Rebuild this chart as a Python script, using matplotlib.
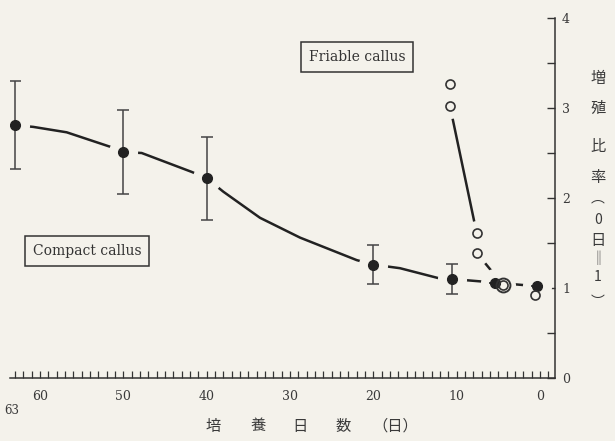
import matplotlib.pyplot as plt
from matplotlib.ticker import MultipleLocator

# compact callus (filled, with error bars)
compact_days = [63, 50, 40, 20, 10.6, 5.4, 0.4]
compact_ratio = [2.81, 2.51, 2.22, 1.26, 1.10, 1.06, 1.02]
compact_err = [0.49, 0.47, 0.46, 0.22, 0.17, 0, 0]

# hand-drawn curve through the compact points
curve_days = [63, 60.8, 56.8, 51.6, 50, 47.8, 41.8, 40, 38.0, 33.6, 28.8, 22.0, 20,
              16.8, 12.2, 10.6, 5.4, 0.4]
curve_ratio = [2.81, 2.79, 2.73, 2.57, 2.51, 2.50, 2.29, 2.22, 2.07, 1.78, 1.56, 1.31, 1.26,
               1.22, 1.11, 1.10, 1.06, 1.02]

# friable callus (open circles)
friable_days = [10.8, 10.8, 7.6, 7.6, 4.4, 0.6]
friable_ratio = [3.27, 3.02, 1.61, 1.39, 1.03, 0.92]

x_ticks = [0, 10, 20, 30, 40, 50, 60]
y_ticks = [0, 1, 2, 3, 4]

bg = '#f4f2eb'
ink = '#222222'
txt = '#3a3a3a'
cjk = ['Noto Sans CJK JP', 'DejaVu Sans']

fig = plt.figure(figsize=(6.15, 4.41), dpi=100, facecolor=bg)
ax = fig.add_axes([10 / 615, 1 - 378 / 441, 545 / 615, 360 / 441])
ax.set_facecolor(bg)
ax.set_xlim(63.6, -1.8)
ax.set_ylim(0, 4)

# lines, with gaps around the markers
ax.plot(curve_days, curve_ratio, color=ink, lw=1.8, zorder=1)
ax.plot(friable_days[1:3], friable_ratio[1:3], color=ink, lw=1.8, zorder=1)
ax.plot(friable_days[3:5], friable_ratio[3:5], color=ink, lw=1.8, zorder=1)
ax.plot(compact_days, compact_ratio, 'o', ms=21, color=bg, mec='none', zorder=2)
ax.plot(friable_days, friable_ratio, 'o', ms=18, color=bg, mec='none', zorder=2)

ax.errorbar(compact_days, compact_ratio, yerr=compact_err, fmt='o', ms=7,
            color=ink, ecolor='#444444', elinewidth=1.1, capsize=4, capthick=1.1, zorder=4)
ax.plot(friable_days, friable_ratio, 'o', ms=6.5, mfc='none', mec='#333333', mew=1.2, zorder=5)
ax.plot(friable_days[4], friable_ratio[4], 'o', ms=10, mfc='none', mec='#333333', mew=1.4, zorder=5)

# axes look
for s in ['left', 'top']:
    ax.spines[s].set_visible(False)
for s in ['right', 'bottom']:
    ax.spines[s].set_color('#333333')
    ax.spines[s].set_linewidth(1.1)

ax.yaxis.tick_right()
ax.set_yticks(y_ticks)
ax.yaxis.set_minor_locator(MultipleLocator(0.5))
ax.tick_params(axis='y', which='both', direction='in', length=6, width=1,
               color='#333333', pad=5, labelsize=9, labelcolor=txt)
ax.set_xticks(x_ticks)
ax.xaxis.set_minor_locator(MultipleLocator(1))
ax.tick_params(axis='x', which='both', direction='in', length=5, width=0.9,
               color='#333333', pad=9, labelsize=9, labelcolor=txt)
for lab in ax.get_xticklabels() + ax.get_yticklabels():
    lab.set_fontfamily('DejaVu Serif')

fig.text(12 / 615, 1 - 410 / 441, '63', fontsize=8.5, family='DejaVu Serif',
         color=txt, ha='center', va='center')

# boxed labels
box = dict(boxstyle='square,pad=0.55', fc=bg, ec='#333333', lw=1.1)
fig.text(357 / 615, 1 - 57 / 441, 'Friable callus', fontsize=10, family='DejaVu Serif',
         color='#333333', ha='center', va='center', bbox=box)
fig.text(87 / 615, 1 - 251 / 441, 'Compact callus', fontsize=10, family='DejaVu Serif',
         color='#333333', ha='center', va='center', bbox=box)

# x title, widely spaced
xlab_chars = ['培', '養', '日', '数', '（日）']
xlab_x = [213, 258, 300, 343, 395]
for ch, px in zip(xlab_chars, xlab_x):
    fig.text(px / 615, 1 - 426 / 441, ch, fontsize=11, family=cjk,
             color=txt, ha='center', va='center')

# y title, written vertically
ylab_chars = ['増', '殖', '比', '率', '︵', '0', '日', '‖', '1', '︶']
ylab_y = [78, 108, 146, 178, 198, 220, 240, 259, 277, 302]
ylab_size = [11, 11, 11, 11, 10, 10, 11, 10, 10, 10]
for ch, py, fs in zip(ylab_chars, ylab_y, ylab_size):
    fig.text(598 / 615, 1 - py / 441, ch, fontsize=fs, family=cjk,
             color=txt, ha='center', va='center')

fig.savefig('out.png', dpi=100, facecolor=bg)
